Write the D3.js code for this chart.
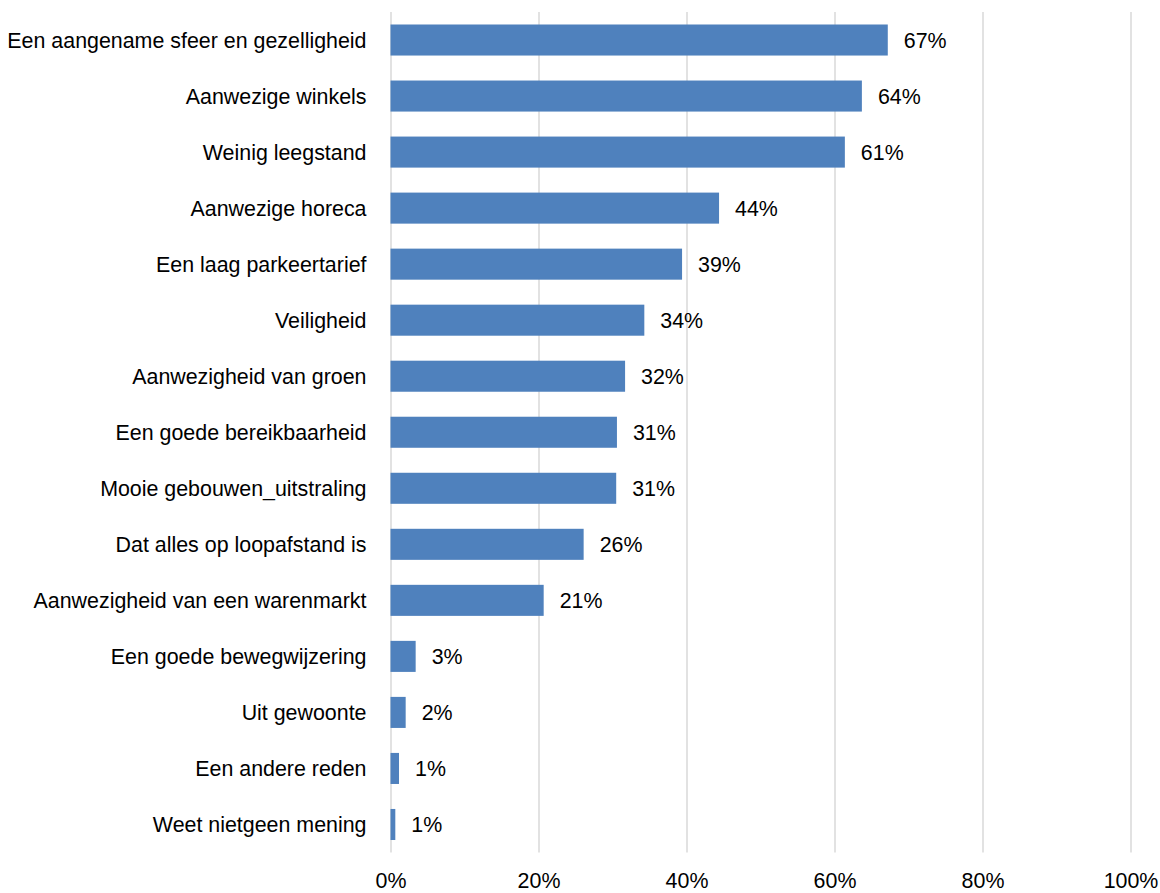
<!DOCTYPE html>
<html>
<head>
<meta charset="utf-8">
<script src="https://cdn.jsdelivr.net/npm/d3@7"></script>
<style>
  html, body { margin: 0; padding: 0; background: #fff; }
  svg { display: block; }
  text { font-family: "Liberation Sans", Arial, sans-serif; fill: #000; }
</style>
</head>
<body>
<svg id="chart" width="1160" height="893"></svg>
<script>
const categories = [
  "Een aangename sfeer en gezelligheid",
  "Aanwezige winkels",
  "Weinig leegstand",
  "Aanwezige horeca",
  "Een laag parkeertarief",
  "Veiligheid",
  "Aanwezigheid van groen",
  "Een goede bereikbaarheid",
  "Mooie gebouwen_uitstraling",
  "Dat alles op loopafstand is",
  "Aanwezigheid van een warenmarkt",
  "Een goede bewegwijzering",
  "Uit gewoonte",
  "Een andere reden",
  "Weet nietgeen mening"
];
const values = [67.2, 63.7, 61.4, 44.4, 39.4, 34.3, 31.7, 30.6, 30.5, 26.1, 20.7, 3.4, 2.05, 1.15, 0.65];
const tickValues = [0, 20, 40, 60, 80, 100];

const svg = d3.select("#chart");
const plotLeft = 390.5, plotRight = 1130.5, plotTop = 12, plotBottom = 852.5;
const fontSize = 21.4;

const x = d3.scaleLinear().domain([0, 100]).range([plotLeft, plotRight]);
const y = d3.scaleBand().domain(categories).range([plotTop, plotBottom])
  .paddingInner(0.446).paddingOuter(0.223);

// gridlines + x axis labels
const xAxis = d3.axisBottom(x).tickValues(tickValues)
  .tickFormat(d => d + "%").tickSize(-(plotBottom - plotTop)).tickPadding(0);
const gx = svg.append("g").attr("transform", `translate(0,${plotBottom})`).call(xAxis);
gx.select(".domain").remove();
gx.selectAll(".tick line").attr("stroke", "#D9D9D9").attr("stroke-width", 1.5);
gx.selectAll(".tick text").attr("font-size", fontSize).attr("dy", null).attr("y", 35.5)
  .style("font-family", '"Liberation Sans", Arial, sans-serif').attr("fill", "#000");

// bars
svg.append("g").selectAll("rect").data(values).join("rect")
  .attr("x", x(0))
  .attr("y", (d, i) => y(categories[i]))
  .attr("width", d => x(d) - x(0))
  .attr("height", y.bandwidth())
  .attr("fill", "#4F81BD");

// category labels
const yAxis = d3.axisLeft(y).tickSize(0).tickPadding(24);
const gy = svg.append("g").attr("transform", `translate(${plotLeft},0)`).call(yAxis);
gy.select(".domain").remove();
gy.selectAll(".tick text").attr("font-size", fontSize).attr("dy", "0.36em")
  .style("font-family", '"Liberation Sans", Arial, sans-serif').attr("fill", "#000");

// value labels
svg.append("g").selectAll("text").data(values).join("text")
  .attr("x", d => x(d) + 16)
  .attr("y", (d, i) => y(categories[i]) + y.bandwidth() / 2)
  .attr("dy", "0.36em")
  .attr("font-size", fontSize)
  .text(d => Math.round(d) + "%");
</script>
</body>
</html>
